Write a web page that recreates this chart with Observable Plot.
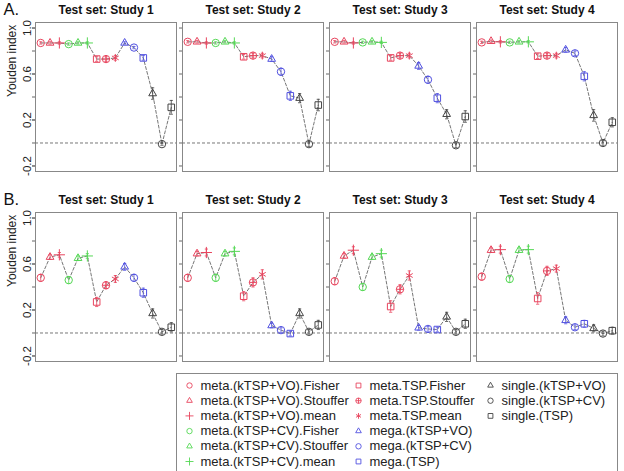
<!DOCTYPE html>
<html><head><meta charset="utf-8">
<script src="https://cdn.jsdelivr.net/npm/d3@7"></script>
<script src="https://cdn.jsdelivr.net/npm/@observablehq/plot@0.6"></script>
<style>
body{margin:0;background:#fff;overflow:hidden;width:624px;height:471px;}
svg{display:block;}
</style></head><body><div id="chart"></div>
<script>
const methods = ["meta.(kTSP+VO).Fisher","meta.(kTSP+VO).Stouffer","meta.(kTSP+VO).mean",
  "meta.(kTSP+CV).Fisher","meta.(kTSP+CV).Stouffer","meta.(kTSP+CV).mean",
  "meta.TSP.Fisher","meta.TSP.Stouffer","meta.TSP.mean",
  "mega.(kTSP+VO)","mega.(kTSP+CV)","mega.(TSP)",
  "single.(kTSP+VO)","single.(kTSP+CV)","single.(TSP)"];
const methodGroups = ["metaVO","metaVO","metaVO","metaCV","metaCV","metaCV","metaTSP","metaTSP","metaTSP","mega","mega","mega","single","single","single"];
const studies = ["Study 1","Study 2","Study 3","Study 4"];
const panels = ["A","B"];
const yTicks = [-0.2,0,0.2,0.4,0.6,0.8,1.0];
const yLabels = [-0.2,0.2,0.6,1.0];

// Panel A: Youden index per study
const youdenA1 = [0.87,0.87,0.87,0.86,0.87,0.87,0.73,0.73,0.74,0.87,0.83,0.74,0.43,-0.01,0.31];
const youdenA2 = [0.88,0.88,0.87,0.87,0.88,0.87,0.75,0.76,0.76,0.73,0.62,0.41,0.39,-0.01,0.33];
const youdenA3 = [0.88,0.88,0.87,0.875,0.88,0.875,0.74,0.76,0.76,0.67,0.55,0.39,0.25,-0.02,0.23];
const youdenA4 = [0.875,0.885,0.88,0.875,0.88,0.88,0.755,0.76,0.76,0.81,0.78,0.58,0.24,0.0,0.18];
const errA1 = [0.01,0.01,0.01,0.01,0.01,0.01,0.02,0.02,0.02,0.01,0.01,0.02,0.05,0.01,0.06];
const errA2 = [0.01,0.01,0.01,0.01,0.01,0.01,0.02,0.02,0.02,0.02,0.03,0.04,0.04,0.02,0.05];
const errA3 = [0.01,0.01,0.01,0.01,0.01,0.01,0.02,0.02,0.02,0.03,0.03,0.04,0.04,0.02,0.05];
const errA4 = [0.01,0.01,0.01,0.01,0.01,0.01,0.02,0.02,0.02,0.02,0.02,0.04,0.05,0.02,0.04];
// Panel B
const youdenB1 = [0.48,0.66,0.68,0.46,0.65,0.67,0.27,0.415,0.47,0.575,0.48,0.35,0.17,0.01,0.05];
const youdenB2 = [0.48,0.69,0.70,0.48,0.69,0.71,0.32,0.44,0.51,0.065,0.025,-0.005,0.17,0.01,0.07];
const youdenB3 = [0.45,0.67,0.72,0.40,0.66,0.69,0.23,0.38,0.50,0.045,0.035,0.03,0.14,0.01,0.08];
const youdenB4 = [0.49,0.72,0.725,0.47,0.72,0.725,0.30,0.54,0.56,0.11,0.05,0.08,0.04,-0.005,0.02];
const errB1 = [0.03,0.02,0.02,0.03,0.02,0.02,0.04,0.03,0.03,0.03,0.03,0.04,0.04,0.02,0.04];
const errB2 = [0.03,0.02,0.03,0.03,0.02,0.03,0.04,0.04,0.04,0.02,0.02,0.02,0.04,0.02,0.04];
const errB3 = [0.03,0.02,0.03,0.03,0.02,0.03,0.05,0.04,0.04,0.02,0.02,0.02,0.04,0.02,0.04];
const errB4 = [0.03,0.02,0.03,0.03,0.02,0.03,0.05,0.04,0.03,0.03,0.02,0.03,0.03,0.02,0.03];

const values = {A: [youdenA1,youdenA2,youdenA3,youdenA4], B: [youdenB1,youdenB2,youdenB3,youdenB4]};
const errors = {A: [errA1,errA2,errA3,errA4], B: [errB1,errB2,errB3,errB4]};

// styles
const groupColors = {metaVO:"#e8455e", metaCV:"#55d855", metaTSP:"#e8455e", mega:"#5050e0", single:"#444"};
const colorScale = {domain: Object.keys(groupColors), range: Object.values(groupColors)};
const circlePlus = {draw(ctx, size){const r=Math.sqrt(size/Math.PI); ctx.moveTo(r,0); ctx.arc(0,0,r,0,2*Math.PI); ctx.moveTo(-r,0); ctx.lineTo(r,0); ctx.moveTo(0,-r); ctx.lineTo(0,r);}};
const squareS = {draw(ctx, size){const r=Math.sqrt(size)*0.5; ctx.rect(-r,-r,2*r,2*r);}};
const capS = {draw(ctx){ctx.moveTo(-1.6,0); ctx.lineTo(1.6,0);}};
const shapeOf = ["circle","triangle2","plus","circle","triangle2","plus",squareS,circlePlus,"asterisk","triangle2","circle",squareS,"triangle2","circle",squareS];

const data = [];
panels.forEach(p => studies.forEach((s, si) => methods.forEach((m, mi) => data.push({
  panel: p, study: s, idx: mi + 1, method: m, group: methodGroups[mi],
  value: values[p][si][mi], err: errors[p][si][mi]
}))));
const cells = panels.flatMap(p => studies.map(s => ({panel: p, study: s})));
const font = "'Liberation Sans', Arial, sans-serif";

const main = Plot.plot({
  width: 624, height: 372,
  marginLeft: 33, marginRight: 5, marginTop: 22, marginBottom: 10,
  style: {fontFamily: font, background: "white", overflow: "visible"},
  x: {domain: [0.44, 15.56], axis: null},
  y: {domain: [-0.248, 1.048]},
  fx: {domain: studies, padding: 0.0405, axis: null},
  fy: {domain: panels, padding: 0.215, axis: null},
  color: colorScale,
  marks: [
    Plot.frame({stroke: "#888"}),
    Plot.ruleY([0], {stroke: "#777", strokeDasharray: "3,2"}),
    Plot.axisY(yTicks, {tickSize: 3, tickFormat: () => "", facetAnchor: null, label: null, stroke: "#666"}),
    Plot.axisY(yLabels, {tickSize: 3, tickPadding: 2, tickRotate: -90, tickFormat: d => d.toFixed(1), fontSize: 11.5, label: null, stroke: "#666", fill: "#222"}),
    Plot.line(data, {x: "idx", y: "value", fx: "study", fy: "panel", stroke: "#666", strokeDasharray: "3,2", strokeWidth: 0.9}),
    Plot.ruleX(data, {x: "idx", y1: d => d.value - d.err, y2: d => d.value + d.err, fx: "study", fy: "panel", stroke: "group", strokeWidth: 0.8}),
    Plot.dot(data, {x: "idx", y: d => d.value - d.err, fx: "study", fy: "panel", stroke: "group", symbol: capS, r: 1, strokeWidth: 0.8}),
    Plot.dot(data, {x: "idx", y: d => d.value + d.err, fx: "study", fy: "panel", stroke: "group", symbol: capS, r: 1, strokeWidth: 0.8}),
    ...methods.map((m, mi) => Plot.dot(data.filter(d => d.idx === mi + 1), {
      x: "idx", y: "value", fx: "study", fy: "panel", stroke: "group", fill: "none",
      symbol: shapeOf[mi], r: 3.7, strokeWidth: 1
    })),
    Plot.text(cells, {fx: "study", fy: "panel", text: d => "Test set: " + d.study, frameAnchor: "top", lineAnchor: "middle", dy: -12.5, fontWeight: "bold", fontSize: 12, fill: "#111"}),
    Plot.text(panels, {fx: () => "Study 1", fy: d => d, text: d => d + ".", frameAnchor: "top-left", lineAnchor: "middle", textAnchor: "start", dx: -32, dy: -13, fontSize: 16.5, fill: "#111"}),
    Plot.text(panels, {fx: () => "Study 1", fy: d => d, text: () => "Youden index", frameAnchor: "left", rotate: -90, dx: -23, fontSize: 12, fill: "#222"})
  ]
});

const legendData = methods.map((m, i) => ({method: m, group: methodGroups[i], col: Math.floor(i / 6), row: i % 6, i}));
const legend = Plot.plot({
  width: 624, height: 110,
  marginLeft: 176, marginRight: 7, marginTop: 1, marginBottom: 0,
  style: {fontFamily: font, background: "white"},
  x: {type: "linear", domain: [0, 1, 2], range: [189, 358, 490], axis: null},
  y: {domain: [0, 5], range: [13, 89], axis: null},
  color: colorScale,
  marks: [
    Plot.frame({stroke: "#888"}),
    ...methods.map((m, mi) => Plot.dot(legendData.filter(d => d.i === mi), {
      x: "col", y: "row", stroke: "group", fill: "none", symbol: shapeOf[mi], r: 2.7, strokeWidth: 0.9
    })),
    Plot.text(legendData, {x: "col", y: "row", text: "method", dx: 11, textAnchor: "start", fontSize: 13, fill: "#222"})
  ]
});

const root = document.getElementById("chart");
root.appendChild(main);
root.appendChild(legend);
</script></body></html>
